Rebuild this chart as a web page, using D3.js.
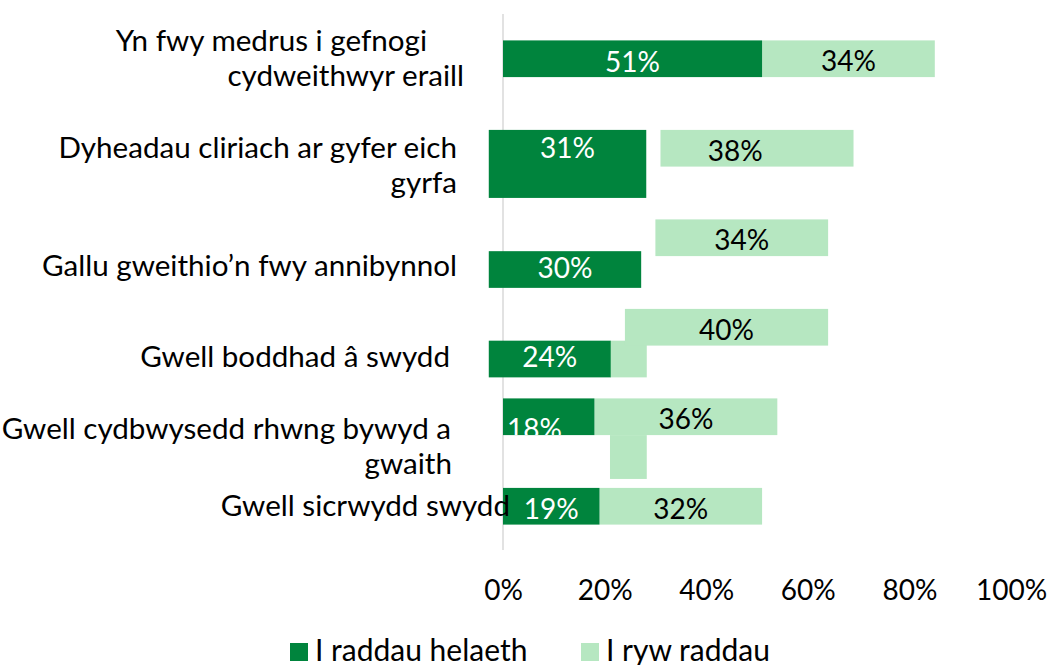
<!DOCTYPE html>
<html>
<head>
<meta charset="utf-8">
<script src="https://cdn.jsdelivr.net/npm/d3@7"></script>
<style>
  body { margin: 0; background: #fff; }
  svg { font-family: Lato, 'Open Sans', sans-serif; }
</style>
</head>
<body>
<div class="canvas"></div>
<script>
// data
const categories = [
  'Yn fwy medrus i gefnogi cydweithwyr eraill',
  'Dyheadau cliriach ar gyfer eich gyrfa',
  'Gallu gweithio’n fwy annibynnol',
  'Gwell boddhad â swydd',
  'Gwell cydbwysedd rhwng bywyd a gwaith',
  'Gwell sicrwydd swydd'
]
const categoryLines = [
  ['Yn fwy medrus i gefnogi', 'cydweithwyr eraill'],
  ['Dyheadau cliriach ar gyfer eich', 'gyrfa'],
  ['Gallu gweithio’n fwy annibynnol'],
  ['Gwell boddhad â swydd'],
  ['Gwell cydbwysedd rhwng bywyd a', 'gwaith'],
  ['Gwell sicrwydd swydd']
]
const seriesNames = ['I raddau helaeth', 'I ryw raddau']
const helaeth = [51, 31, 30, 24, 18, 19]
const rywRaddau = [34, 38, 34, 40, 36, 32]
const tickValues = [0, 20, 40, 60, 80, 100]

// the source picture is misregistered in places, these reproduce it
const darkStart = [0, -2.8, -2.8, -2.8, 0, 0]      // % where the dark bar begins
const darkDrop = [0, 0, 0.355, 0.355, 0, 0]         // dark bar pushed down (band steps)
const darkGrow = [0, 0.35, 0, 0, 0, 0]              // dark bar extra height (band steps)
const darkLabelShift = [0, 0, 0, 0, -2.8, 0]        // %
const darkLabelDy = [13, 9.3, 8.4, 8.4, 22.5, 12.3]  // px below bar centre
const lightLabelShift = [0, -4.3, 0, 0, 0, 0]       // %
const labelDrop = [0, 0.19, 0.32, 0.33, 0.33, 0]    // category label drift (band steps)
const labelEdge = [[427, 464], [457, 457], [457], [450], [451, 452], [510]]
const ghosts = [ // stray light blocks: [category, from %, to %, top, bottom (band steps)]
  [3, 21.06, 28.3, 0.355, 0.765],
  [4, 21.06, 28.3, 0.41, 0.9]
]

const dims = { width: 1050, height: 665 }
const colors = { dark: '#00843d', light: '#b6e7c1', axis: '#d9d9d9' }
const fontSize = 28       // numbers
const catFontSize = 29.6  // category names
const legendFontSize = 30

const svg = d3.select('.canvas')
  .append('svg')
  .attr('width', dims.width)
  .attr('height', dims.height)

const x = d3.scaleLinear().domain([0, 100]).range([503, 1011])
const y = d3.scaleBand()
  .domain(categories)
  .range([14, 551])
  .paddingInner(0.59)
  .paddingOuter(0.295)
const step = y.step()
const bw = y.bandwidth()

// value axis line
svg.append('line')
  .attr('x1', x(0)).attr('x2', x(0))
  .attr('y1', 14).attr('y2', 550)
  .attr('stroke', colors.axis)
  .attr('stroke-width', 1.5)

// x axis labels
const xAxis = d3.axisBottom(x)
  .tickValues(tickValues)
  .tickFormat(d => d + '%')
  .tickSize(0)
  .tickPadding(20)

const xg = svg.append('g')
  .attr('transform', 'translate(0, 560)')
  .call(xAxis)
xg.select('.domain').remove()
xg.selectAll('text')
  .attr('font-size', fontSize)
  .attr('font-family', 'Lato, sans-serif')
  .attr('fill', '#000')

// ghost blocks
svg.selectAll('rect.ghost')
  .data(ghosts)
  .enter()
  .append('rect')
    .attr('class', 'ghost')
    .attr('x', d => x(d[1]))
    .attr('width', d => x(d[2]) - x(d[1]))
    .attr('y', d => y(categories[d[0]]) + d[3] * step)
    .attr('height', d => (d[4] - d[3]) * step)
    .attr('fill', colors.light)

const rows = categories.map((c, i) => ({ c, i, big: helaeth[i], some: rywRaddau[i] }))

// light series, stacked after the dark value
svg.selectAll('rect.light')
  .data(rows)
  .enter()
  .append('rect')
    .attr('class', 'light')
    .attr('x', d => x(d.big))
    .attr('width', d => x(d.big + d.some) - x(d.big))
    .attr('y', d => y(d.c))
    .attr('height', bw)
    .attr('fill', colors.light)

// dark series
const darkY = d => y(d.c) + darkDrop[d.i] * step
const darkH = d => bw + darkGrow[d.i] * step

svg.selectAll('rect.dark')
  .data(rows)
  .enter()
  .append('rect')
    .attr('class', 'dark')
    .attr('x', d => x(darkStart[d.i]))
    .attr('width', d => x(darkStart[d.i] + d.big) - x(darkStart[d.i]))
    .attr('y', darkY)
    .attr('height', darkH)
    .attr('fill', colors.dark)

// clip dark labels to their bars
const defs = svg.append('defs')
rows.forEach(d => {
  defs.append('clipPath')
    .attr('id', `clip-${d.i}`)
    .append('rect')
      .attr('x', x(darkStart[d.i]))
      .attr('width', x(darkStart[d.i] + d.big) - x(darkStart[d.i]))
      .attr('y', darkY(d))
      .attr('height', darkH(d))
})

svg.selectAll('text.dark-label')
  .data(rows)
  .enter()
  .append('text')
    .attr('class', 'dark-label')
    .attr('clip-path', d => `url(#clip-${d.i})`)
    .attr('x', d => x(darkStart[d.i] + d.big / 2 + darkLabelShift[d.i]))
    .attr('y', d => y(d.c) + darkDrop[d.i] * step + bw / 2 + darkLabelDy[d.i])
    .attr('text-anchor', 'middle')
    .attr('font-size', fontSize)
    .attr('fill', '#fff')
    .text(d => d.big + '%')

svg.selectAll('text.light-label')
  .data(rows)
  .enter()
  .append('text')
    .attr('class', 'light-label')
    .attr('x', d => x(d.big + d.some / 2 + lightLabelShift[d.i]))
    .attr('y', d => y(d.c) + bw / 2 + 12.6)
    .attr('text-anchor', 'middle')
    .attr('font-size', fontSize)
    .attr('fill', '#000')
    .text(d => d.some + '%')

// category labels
const lineHeight = 35
const catGroups = svg.selectAll('g.cat')
  .data(rows)
  .enter()
  .append('g')
    .attr('class', 'cat')

catGroups.each(function(d) {
  const lines = categoryLines[d.i]
  const mid = y(d.c) + bw / 2 + labelDrop[d.i] * step + 10
  d3.select(this).selectAll('text')
    .data(lines)
    .enter()
    .append('text')
      .attr('x', (l, k) => labelEdge[d.i][k])
      .attr('y', (l, k) => mid + (k - (lines.length - 1) / 2) * lineHeight)
      .attr('text-anchor', 'end')
      .attr('font-size', catFontSize)
      .attr('fill', '#000')
      .text(l => l)
})

// legend
const legendX = [290, 581]
const legend = svg.selectAll('g.legend')
  .data(seriesNames)
  .enter()
  .append('g')
    .attr('class', 'legend')
    .attr('transform', (d, i) => `translate(${legendX[i]}, 643)`)

legend.append('rect')
  .attr('width', 18)
  .attr('height', 18)
  .attr('fill', (d, i) => i === 0 ? colors.dark : colors.light)

legend.append('text')
  .attr('x', 25)
  .attr('y', 18)
  .attr('font-size', legendFontSize)
  .attr('fill', '#000')
  .text(d => d)
</script>
</body>
</html>
